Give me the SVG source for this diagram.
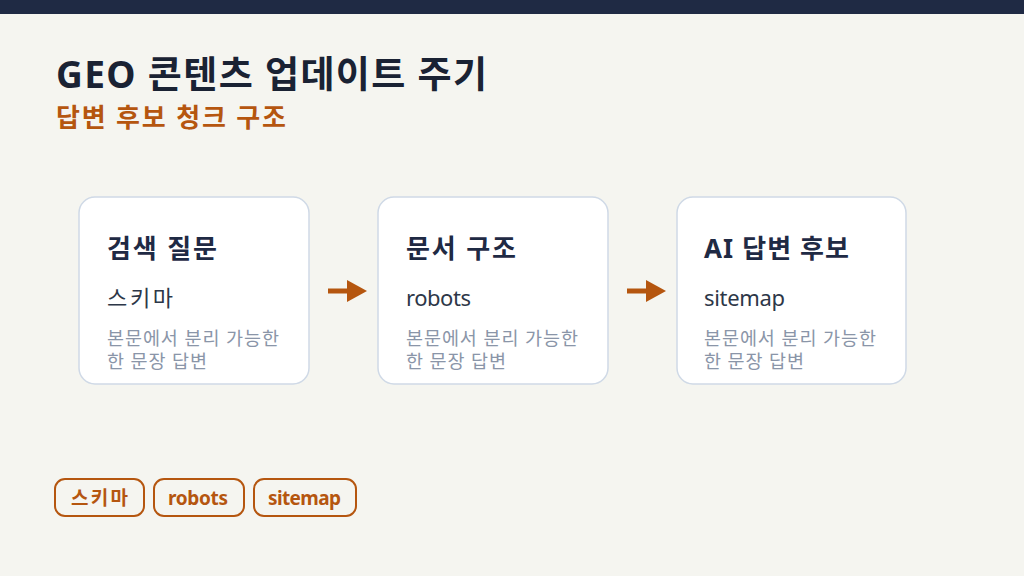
<svg xmlns="http://www.w3.org/2000/svg" width="1024" height="576" viewBox="0 0 1024 576">
<style>
text{font-family:"Noto Sans","Noto Sans CJK KR",sans-serif}
.card{fill:#ffffff;stroke:#cfd9e6;stroke-width:1.5}
.ct{font-size:26px;font-weight:700;fill:#1f2a44}
.cs{font-size:22px;fill:#2d3748}
.cd{font-size:18.5px;fill:#8a95a8}
.chip{fill:none;stroke:#b5560f;stroke-width:2}
.chipt{font-size:19px;font-weight:700;fill:#b5560f}
.arr{stroke:#b5560f;stroke-width:5;fill:none}
.head{fill:#b5560f}
</style>
<rect x="0" y="0" width="1024" height="576" fill="#f5f5f0"/>
<rect x="0" y="0" width="1024" height="14" fill="#1f2a44"/>
<text x="56" y="88" font-size="37" font-weight="700" fill="#1a2233" textLength="431">GEO 콘텐츠 업데이트 주기</text>
<text x="56" y="127" font-size="26" font-weight="700" fill="#b5560f" textLength="230">답변 후보 청크 구조</text>
<g id="connectors">
<line class="arr" x1="328" y1="291" x2="350" y2="291"/>
<polygon class="head" points="347,280 367,291 347,302"/>
<line class="arr" x1="627" y1="291" x2="649" y2="291"/>
<polygon class="head" points="646,280 666,291 646,302"/>
</g>
<g id="node1">
<rect class="card" x="79" y="197" width="230" height="187" rx="16"/>
<text class="ct" x="107" y="258" textLength="110">검색 질문</text>
<text class="cs" x="107" y="306" textLength="66">스키마</text>
<text class="cd" x="107" y="345" textLength="172">본문에서 분리 가능한</text>
<text class="cd" x="107" y="368" textLength="100">한 문장 답변</text>
</g>
<g id="node2">
<rect class="card" x="378" y="197" width="230" height="187" rx="16"/>
<text class="ct" x="406" y="258" textLength="110">문서 구조</text>
<text class="cs" x="406" y="306" textLength="65">robots</text>
<text class="cd" x="406" y="345" textLength="172">본문에서 분리 가능한</text>
<text class="cd" x="406" y="368" textLength="100">한 문장 답변</text>
</g>
<g id="node3">
<rect class="card" x="677" y="197" width="229" height="187" rx="16"/>
<text class="ct" x="704" y="258" textLength="145">AI 답변 후보</text>
<text class="cs" x="704" y="306" textLength="81">sitemap</text>
<text class="cd" x="704" y="345" textLength="172">본문에서 분리 가능한</text>
<text class="cd" x="704" y="368" textLength="100">한 문장 답변</text>
</g>
<g id="chip1">
<rect class="chip" x="55" y="479" width="89" height="37" rx="10"/>
<text class="chipt" x="71" y="505" textLength="57">스키마</text>
</g>
<g id="chip2">
<rect class="chip" x="154" y="479" width="90" height="37" rx="10"/>
<text class="chipt" x="168" y="505" textLength="60">robots</text>
</g>
<g id="chip3">
<rect class="chip" x="254" y="479" width="102" height="37" rx="10"/>
<text class="chipt" x="268" y="505" textLength="73">sitemap</text>
</g>
</svg>
